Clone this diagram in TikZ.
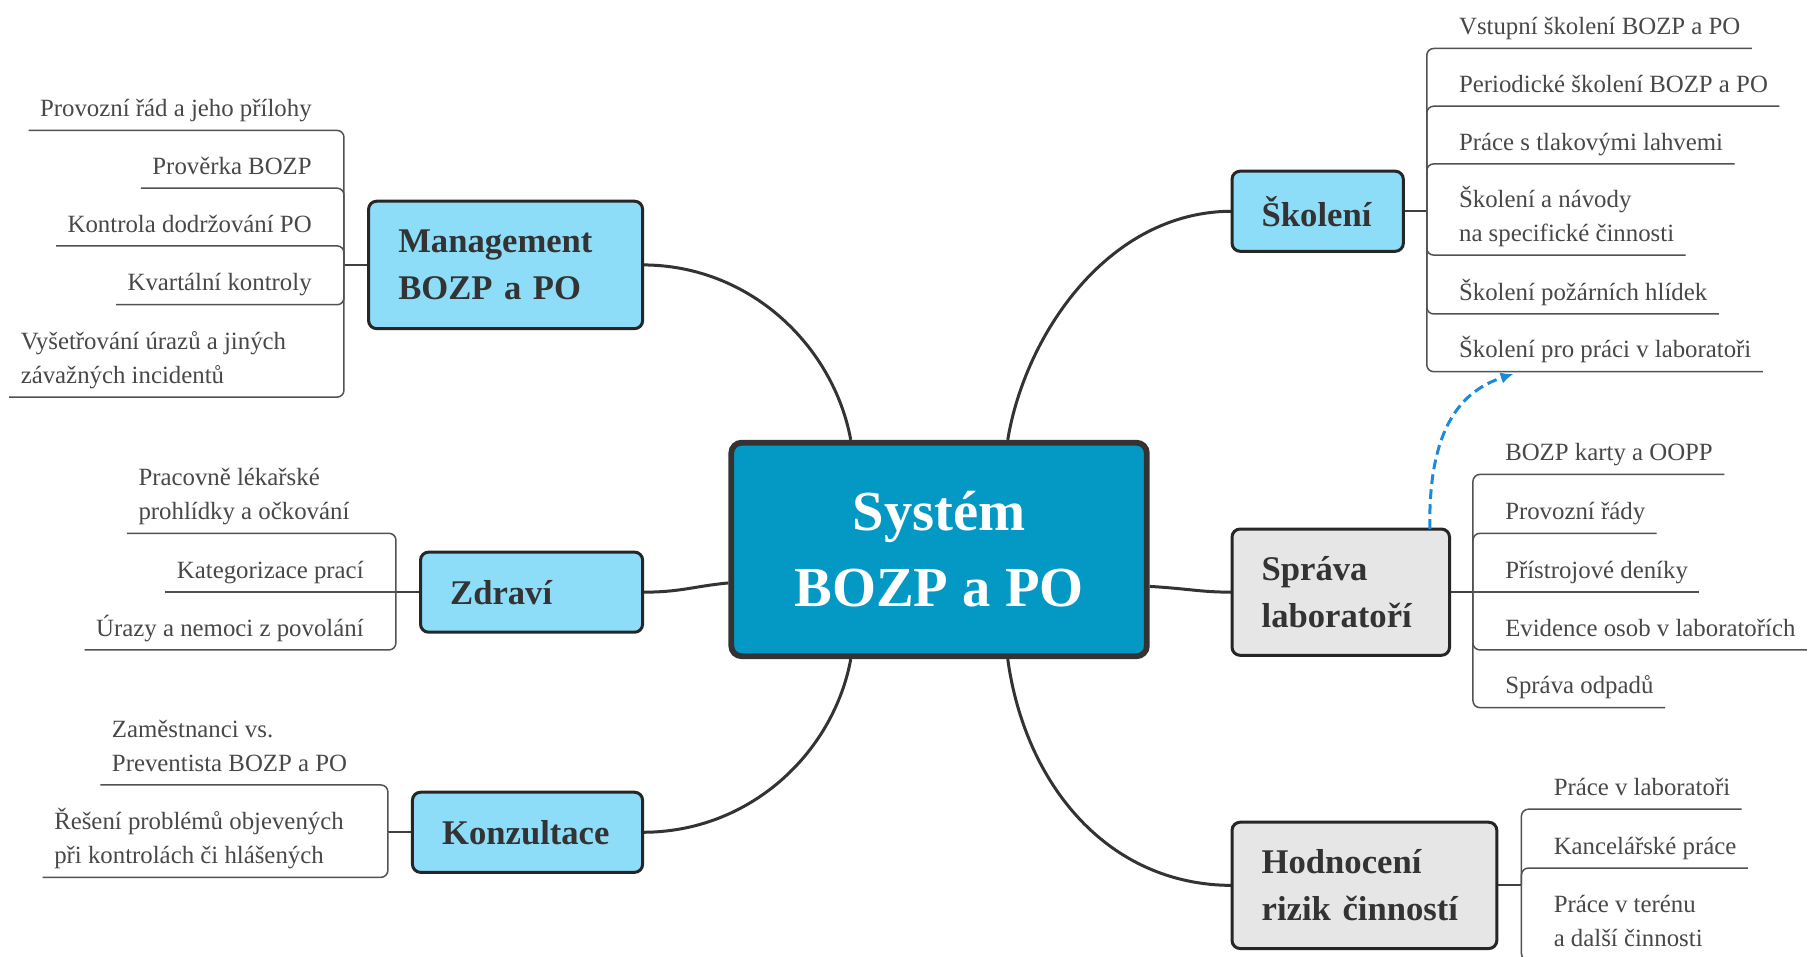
\documentclass[tikz,border=0pt]{standalone}
\usepackage{fontspec}
\setmainfont{Liberation Serif}
\usetikzlibrary{arrows.meta,calc,backgrounds}
\definecolor{coreblue}{HTML}{0399C4}
\definecolor{skyblue}{HTML}{8EDDF8}
\definecolor{paleGrey}{HTML}{E6E6E6}
\definecolor{ink}{HTML}{333333}
\definecolor{leafink}{HTML}{484848}
\definecolor{linkblue}{HTML}{1C8ADB}

\begin{document}
\begin{tikzpicture}[x=1pt,y=-1pt,
  core/.style={draw=ink, line width=5pt, fill=coreblue, rounded corners=9pt,
    minimum width=360pt, minimum height=185pt, inner sep=0pt, text=white,
    font=\fontsize{49}{66}\selectfont\bfseries, align=center},
  topic/.style={draw=black!85, line width=2.6pt, rounded corners=7pt,
    inner xsep=25.7pt, inner ysep=0pt, outer sep=0pt, align=left,
    font=\fontsize{30}{41}\selectfont\bfseries, text=ink},
  bluetopic/.style={topic, fill=skyblue},
  greytopic/.style={topic, fill=paleGrey},
  leaf/.style={font=\fontsize{21.5}{29.5}\selectfont, text=leafink,
    inner xsep=10pt, inner ysep=12pt, outer sep=0pt, text depth=0pt, align=left},
  leafline/.style={draw=black!68, line width=1.3pt, rounded corners=6pt},
  stem/.style={draw=black!75, line width=1.8pt},
  mainlink/.style={draw=ink, line width=2.6pt},
  crosslink/.style={draw=linkblue, line width=2.6pt, dash pattern=on 8.5pt off 4.5pt,
    -{Latex[length=11pt,width=10pt]}}
]
\useasboundingbox (0,0) rectangle (1568,829);

% central topic and main branches
\node[core] (core) at (813.5,476) {Systém\\BOZP a PO};
\node[bluetopic, minimum height=110.4pt, text width=186pt] (mgmt) at (438,229.5) {Management\\BOZP a PO};
\node[bluetopic, minimum height=69.4pt, text width=141pt] (zdravi) at (460.5,513) {Zdraví};
\node[bluetopic, minimum height=69.4pt, text width=148pt] (konz) at (457,721) {Konzultace};
\node[bluetopic, minimum height=69.4pt, text width=97pt] (skol) at (1141.5,183) {Školení};
\node[greytopic, minimum height=109.4pt, text width=137pt] (sprava) at (1161.5,513) {Správa\\laboratoří};
\node[greytopic, minimum height=109.4pt, text width=178pt] (hodn) at (1182,767) {Hodnocení\\rizik činností};

% junctions where the leaf brackets meet the stems
\coordinate (jM) at (298,229.5);
\coordinate (jZ) at (343,513);
\coordinate (jK) at (336,721);
\coordinate (jS) at (1236,183);
\coordinate (jL) at (1276,513);
\coordinate (jH) at (1318,767);

% leaves: Management BOZP a PO
\node[leaf, anchor=south east] (m1) at (280,113) {Provozní řád a jeho přílohy};
\node[leaf, anchor=south east] (m2) at (280,163) {Prověrka BOZP};
\node[leaf, anchor=south east] (m3) at (280,213) {Kontrola dodržování PO};
\node[leaf, anchor=south east] (m4) at (280,264) {Kvartální kontroly};
\node[leaf, anchor=south west] (m5) at (8,344) {Vyšetřování úrazů a jiných\\závažných incidentů};

% leaves: Zdraví
\node[leaf, anchor=south west] (z1) at (110,462) {Pracovně lékařské\\prohlídky a očkování};
\node[leaf, anchor=south east] (z2) at (325,513) {Kategorizace prací};
\node[leaf, anchor=south east] (z3) at (325,563) {Úrazy a nemoci z povolání};

% leaves: Konzultace
\node[leaf, anchor=south west] (k1) at (87,680) {Zaměstnanci vs.\\Preventista BOZP a PO};
\node[leaf, anchor=south west] (k2) at (37,760) {Řešení problémů objevených\\při kontrolách či hlášených};

% leaves: Školení
\node[leaf, anchor=south west] (s1) at (1254,42) {Vstupní školení BOZP a PO};
\node[leaf, anchor=south west] (s2) at (1254,92) {Periodické školení BOZP a PO};
\node[leaf, anchor=south west] (s3) at (1254,142) {Práce s tlakovými lahvemi};
\node[leaf, anchor=south west] (s4) at (1254,221) {Školení a návody\\na specifické činnosti};
\node[leaf, anchor=south west] (s5) at (1254,272) {Školení požárních hlídek};
\node[leaf, anchor=south west] (s6) at (1254,322) {Školení pro práci v laboratoři};

% leaves: Správa laboratoří
\node[leaf, anchor=south west] (l1) at (1294,411) {BOZP karty a OOPP};
\node[leaf, anchor=south west] (l2) at (1294,462) {Provozní řády};
\node[leaf, anchor=south west] (l3) at (1294,513) {Přístrojové deníky};
\node[leaf, anchor=south west] (l4) at (1294,563) {Evidence osob v laboratořích};
\node[leaf, anchor=south west] (l5) at (1294,613) {Správa odpadů};

% leaves: Hodnocení rizik činností
\node[leaf, anchor=south west] (h1) at (1336,701) {Práce v laboratoři};
\node[leaf, anchor=south west] (h2) at (1336,752) {Kancelářské práce};
\node[leaf, anchor=south west] (h3) at (1336,832) {Práce v terénu\\a další činnosti};

\begin{pgfonlayer}{background}
  \fill[white] (0,0) rectangle (1568,829);

  % curved links from the central topic
  \draw[mainlink] ([xshift=106pt]core.north west) .. controls (722,300) and (650,229.5) .. (mgmt.east);
  \draw[mainlink] ([xshift=242pt]core.north west) .. controls (888,290) and (960,183) .. (skol.west);
  \draw[mainlink] ([yshift=-29pt]core.west) .. controls (600,508) and (590,513) .. (zdravi.east);
  \draw[mainlink] ([yshift=-32pt]core.east) .. controls (1030,510) and (1040,513) .. (sprava.west);
  \draw[mainlink] ([xshift=106pt]core.south west) .. controls (722,652) and (650,721) .. (konz.east);
  \draw[mainlink] ([xshift=242pt]core.south west) .. controls (888,680) and (960,767) .. (hodn.west);

  % stems into the leaf brackets
  \draw[stem] (mgmt.west) -- (jM);
  \draw[stem] (zdravi.west) -- (jZ);
  \draw[stem] (konz.west) -- (jK);
  \draw[stem] (skol.east) -- (jS);
  \draw[stem] (sprava.east) -- (jL);
  \draw[stem] (hodn.east) -- (jH);
\end{pgfonlayer}

% leaf brackets, left side
\foreach \n in {m1,m2,m3,m4,m5}
  \draw[leafline] (jM) -- (jM |- \n.south) -- (\n.south west);
\foreach \n in {z1,z3}
  \draw[leafline] (jZ) -- (jZ |- \n.south) -- (\n.south west);
\draw[leafline] (jZ) -- (z2.south west);
\foreach \n in {k1,k2}
  \draw[leafline] (jK) -- (jK |- \n.south) -- (\n.south west);

% leaf brackets, right side
\foreach \n in {s1,s2,s3,s4,s5,s6}
  \draw[leafline] (jS) -- (jS |- \n.south) -- (\n.south east);
\foreach \n in {l1,l2,l4,l5}
  \draw[leafline] (jL) -- (jL |- \n.south) -- (\n.south east);
\draw[leafline] (jL) -- (l3.south east);
\foreach \n in {h1,h2,h3}
  \draw[leafline] (jH) -- (jH |- \n.south) -- (\n.south east);

% dashed cross link from Správa laboratoří to the lab training leaf
\draw[crosslink] ([xshift=-17pt]sprava.north east) .. controls (1237,368) and (1268,338) .. ($(s6.south west)+(57,2)$);
\end{tikzpicture}
\end{document}
